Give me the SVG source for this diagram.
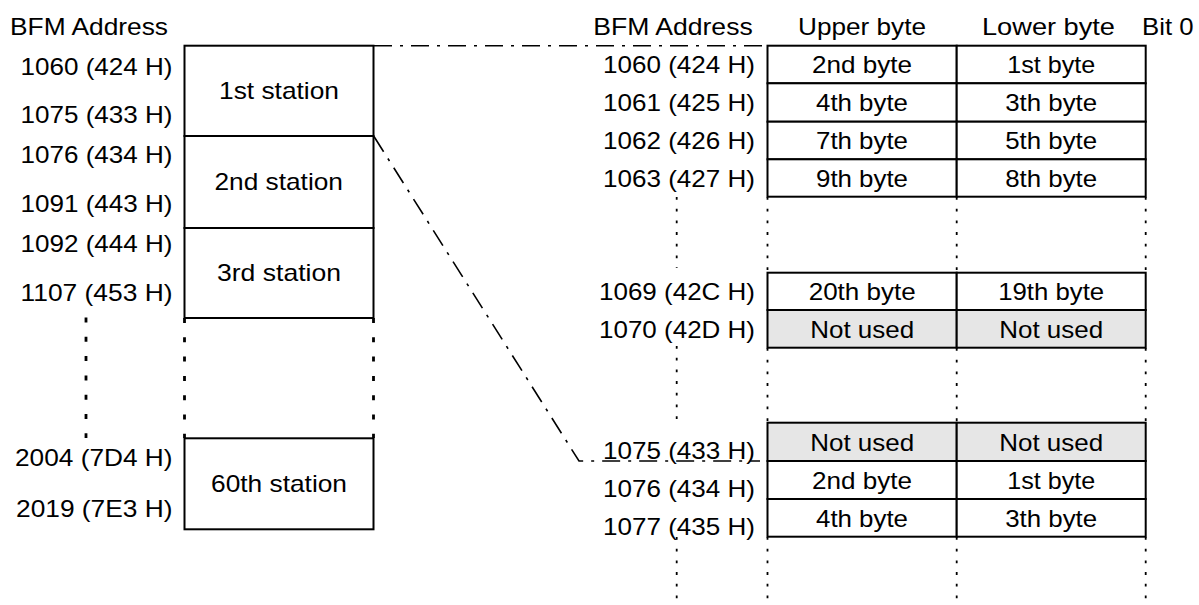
<svg xmlns="http://www.w3.org/2000/svg" width="1199" height="605" viewBox="0 0 1199 605">
<style>
text{font-family:"Liberation Sans",Arial,sans-serif;font-size:24px;fill:#000}
.box{fill:#fff;stroke:#000;stroke-width:2}
.grey{fill:#e6e6e6;stroke:#000;stroke-width:2}
.dd{stroke:#000;stroke-width:1.6;fill:none;stroke-dasharray:18 8 3 8}
.dl{stroke:#000;stroke-width:2.8;fill:none;stroke-dasharray:5 14.3}
.dr{stroke:#000;stroke-width:1.8;fill:none;stroke-dasharray:2.8 8.9}
</style>
<rect width="1199" height="605" fill="#fff"/>

<g id="left-header">
<text x="10" y="35" textLength="158" lengthAdjust="spacingAndGlyphs">BFM Address</text>
</g>

<g id="left-addresses">
<text x="20.5" y="74.5" textLength="152" lengthAdjust="spacingAndGlyphs">1060 (424 H)</text>
<text x="20.5" y="122.7" textLength="152" lengthAdjust="spacingAndGlyphs">1075 (433 H)</text>
<text x="20.5" y="163" textLength="152" lengthAdjust="spacingAndGlyphs">1076 (434 H)</text>
<text x="20.5" y="211.7" textLength="152" lengthAdjust="spacingAndGlyphs">1091 (443 H)</text>
<text x="20.5" y="252" textLength="152" lengthAdjust="spacingAndGlyphs">1092 (444 H)</text>
<text x="20.5" y="301" textLength="152" lengthAdjust="spacingAndGlyphs">1107 (453 H)</text>
<text x="15" y="465.7" textLength="157.5" lengthAdjust="spacingAndGlyphs">2004 (7D4 H)</text>
<text x="16" y="517.3" textLength="156.5" lengthAdjust="spacingAndGlyphs">2019 (7E3 H)</text>
</g>

<g id="station-1">
<rect class="box" x="184.5" y="45.7" width="189" height="90.3"/>
<text x="219" y="99.3" textLength="120" lengthAdjust="spacingAndGlyphs">1st station</text>
</g>
<g id="station-2">
<rect class="box" x="184.5" y="136" width="189" height="92"/>
<text x="214.5" y="190" textLength="128.4" lengthAdjust="spacingAndGlyphs">2nd station</text>
</g>
<g id="station-3">
<rect class="box" x="184.5" y="228" width="189" height="90"/>
<text x="217" y="280.7" textLength="124" lengthAdjust="spacingAndGlyphs">3rd station</text>
</g>
<g id="station-60">
<rect class="box" x="184.5" y="438.3" width="189" height="91"/>
<text x="211" y="492.3" textLength="136" lengthAdjust="spacingAndGlyphs">60th station</text>
</g>

<g id="right-header">
<text x="593.3" y="35" textLength="159.4" lengthAdjust="spacingAndGlyphs">BFM Address</text>
<text x="798" y="35" textLength="128" lengthAdjust="spacingAndGlyphs">Upper byte</text>
<text x="982" y="35" textLength="133" lengthAdjust="spacingAndGlyphs">Lower byte</text>
<text x="1142" y="35" textLength="51.5" lengthAdjust="spacingAndGlyphs">Bit 0</text>
</g>

<g id="row-1060">
<rect class="box" x="767.5" y="45.7" width="189.2" height="37.6"/>
<rect class="box" x="956.7" y="45.7" width="189" height="37.6"/>
<text x="603" y="73.3" textLength="152" lengthAdjust="spacingAndGlyphs">1060 (424 H)</text>
<text x="812" y="73.3" textLength="100" lengthAdjust="spacingAndGlyphs">2nd byte</text>
<text x="1007.2" y="73.3" textLength="88" lengthAdjust="spacingAndGlyphs">1st byte</text>
</g>
<g id="row-1061">
<rect class="box" x="767.5" y="83.3" width="189.2" height="38.4"/>
<rect class="box" x="956.7" y="83.3" width="189" height="38.4"/>
<text x="603" y="111.2" textLength="152" lengthAdjust="spacingAndGlyphs">1061 (425 H)</text>
<text x="816" y="111.2" textLength="92" lengthAdjust="spacingAndGlyphs">4th byte</text>
<text x="1005.2" y="111.2" textLength="92" lengthAdjust="spacingAndGlyphs">3th byte</text>
</g>
<g id="row-1062">
<rect class="box" x="767.5" y="121.7" width="189.2" height="37.6"/>
<rect class="box" x="956.7" y="121.7" width="189" height="37.6"/>
<text x="603" y="149.2" textLength="152" lengthAdjust="spacingAndGlyphs">1062 (426 H)</text>
<text x="816" y="149.2" textLength="92" lengthAdjust="spacingAndGlyphs">7th byte</text>
<text x="1005.2" y="149.2" textLength="92" lengthAdjust="spacingAndGlyphs">5th byte</text>
</g>
<g id="row-1063">
<rect class="box" x="767.5" y="159.3" width="189.2" height="37.4"/>
<rect class="box" x="956.7" y="159.3" width="189" height="37.4"/>
<text x="603" y="186.5" textLength="152" lengthAdjust="spacingAndGlyphs">1063 (427 H)</text>
<text x="816" y="186.5" textLength="92" lengthAdjust="spacingAndGlyphs">9th byte</text>
<text x="1005.2" y="186.5" textLength="92" lengthAdjust="spacingAndGlyphs">8th byte</text>
</g>

<g id="row-1069">
<rect class="box" x="767.5" y="272.7" width="189.2" height="37.3"/>
<rect class="box" x="956.7" y="272.7" width="189" height="37.3"/>
<text x="599" y="300" textLength="156" lengthAdjust="spacingAndGlyphs">1069 (42C H)</text>
<text x="808.7" y="300" textLength="107" lengthAdjust="spacingAndGlyphs">20th byte</text>
<text x="998.2" y="300" textLength="106" lengthAdjust="spacingAndGlyphs">19th byte</text>
</g>
<g id="row-1070">
<rect class="grey" x="767.5" y="310" width="189.2" height="37.7"/>
<rect class="grey" x="956.7" y="310" width="189" height="37.7"/>
<text x="599" y="337.7" textLength="156" lengthAdjust="spacingAndGlyphs">1070 (42D H)</text>
<text x="810.2" y="337.6" textLength="104" lengthAdjust="spacingAndGlyphs">Not used</text>
<text x="999.2" y="337.6" textLength="104" lengthAdjust="spacingAndGlyphs">Not used</text>
</g>

<g id="row-1075">
<rect class="grey" x="767.5" y="422.7" width="189.2" height="38.3"/>
<rect class="grey" x="956.7" y="422.7" width="189" height="38.3"/>
<text x="603" y="459" textLength="152" lengthAdjust="spacingAndGlyphs">1075 (433 H)</text>
<text x="810.2" y="450.6" textLength="104" lengthAdjust="spacingAndGlyphs">Not used</text>
<text x="999.2" y="450.6" textLength="104" lengthAdjust="spacingAndGlyphs">Not used</text>
</g>
<g id="row-1076">
<rect class="box" x="767.5" y="461" width="189.2" height="38"/>
<rect class="box" x="956.7" y="461" width="189" height="38"/>
<text x="603" y="496.5" textLength="152" lengthAdjust="spacingAndGlyphs">1076 (434 H)</text>
<text x="812" y="488.8" textLength="100" lengthAdjust="spacingAndGlyphs">2nd byte</text>
<text x="1007.2" y="488.8" textLength="88" lengthAdjust="spacingAndGlyphs">1st byte</text>
</g>
<g id="row-1077">
<rect class="box" x="767.5" y="499" width="189.2" height="37.7"/>
<rect class="box" x="956.7" y="499" width="189" height="37.7"/>
<text x="603" y="535" textLength="152" lengthAdjust="spacingAndGlyphs">1077 (435 H)</text>
<text x="816" y="526.6" textLength="92" lengthAdjust="spacingAndGlyphs">4th byte</text>
<text x="1005.2" y="526.6" textLength="92" lengthAdjust="spacingAndGlyphs">3th byte</text>
</g>

<g id="continuation-dots">
<path class="dl" d="M86,317.5V438 M184.5,318V438 M373.5,318V438"/>
<path class="dr" d="M676.7,197V268 M676.7,346V421 M676.7,537V600"/>
<path class="dr" d="M767.5,197V272 M956.7,197V272 M1145.7,197V272"/>
<path class="dr" d="M767.5,348V422 M956.7,348V422 M1145.7,348V422"/>
<path class="dr" d="M767.5,537V600 M956.7,537V600 M1145.7,537V600"/>
</g>

<g id="connectors">
<path class="dd" d="M374,45.7H767"/>
<path class="dd" d="M374,136.5L579,461H760"/>
</g>
</svg>
